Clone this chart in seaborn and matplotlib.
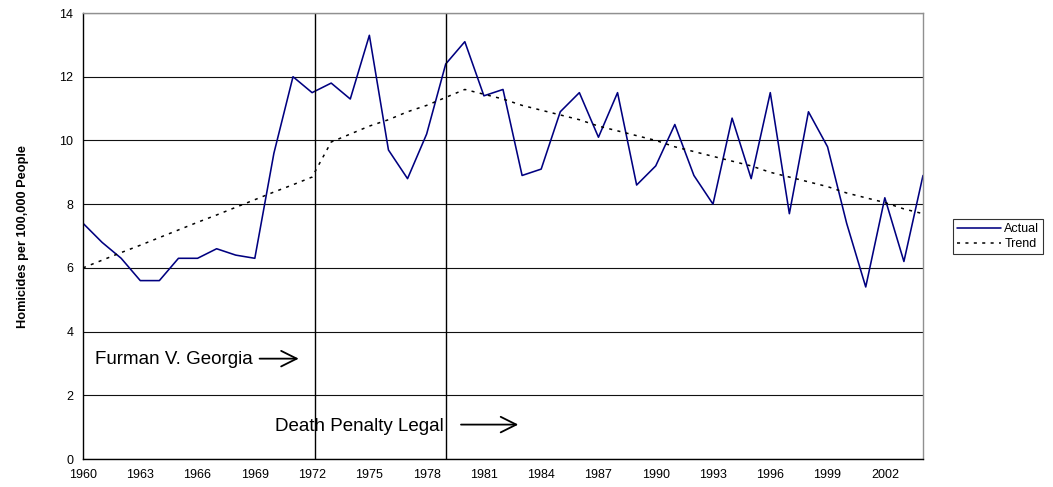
import matplotlib
matplotlib.use("Agg")
import matplotlib.pyplot as plt
import seaborn as sns
import pandas as pd
import numpy as np

years = list(range(1960, 2005))
actual = [7.4, 6.8, 6.3, 5.6, 5.6, 6.3, 6.3, 6.6, 6.4, 6.3,
          9.6, 12.0, 11.5, 11.8, 11.3, 13.3, 9.7, 8.8, 10.2, 12.4,
          13.1, 11.4, 11.6, 8.9, 9.1, 10.9, 11.5, 10.1, 11.5, 8.6,
          9.2, 10.5, 8.9, 8.0, 10.7, 8.8, 11.5, 7.7, 10.9, 9.8,
          7.4, 5.4, 8.2, 6.2, 8.9]
trend = [6.0, 6.24, 6.48, 6.71, 6.95, 7.19, 7.43, 7.66, 7.9, 8.14,
         8.38, 8.61, 8.85, 9.95, 10.2, 10.45, 10.65, 10.9, 11.1, 11.35,
         11.6, 11.45, 11.3, 11.1, 10.95, 10.8, 10.65, 10.45, 10.3, 10.15,
         10.0, 9.8, 9.65, 9.5, 9.35, 9.2, 9.0, 8.85, 8.7, 8.55,
         8.35, 8.2, 8.05, 7.85, 7.7]
event_years = [1972.15, 1979.0]
event_labels = ["Furman V. Georgia", "Death Penalty Legal"]
ylabel = "Homicides per 100,000 People"

sns.set_style("white")
plt.rcParams['font.family'] = ['Liberation Sans', 'DejaVu Sans']
plt.rcParams['text.color'] = 'black'
plt.rcParams['axes.labelcolor'] = 'black'
plt.rcParams['xtick.color'] = 'black'
plt.rcParams['ytick.color'] = 'black'

df = pd.DataFrame({"Year": years, "Actual": actual, "Trend": trend})

fig = plt.figure(figsize=(10.53, 4.87), dpi=100)
ax = fig.add_axes([83/1053, 1 - 459/487, (923-83)/1053, (459-13)/487])

sns.lineplot(data=df, x="Year", y="Actual", ax=ax, color="#000080", lw=1.15, label="Actual")
sns.lineplot(data=df, x="Year", y="Trend", ax=ax, color="black", lw=1.1,
             linestyle=(0, (2, 3.5)), label="Trend")

ax.set_xlim(1960, 2004)
ax.set_ylim(0, 14)
ax.set_yticks(np.arange(0, 15, 2))
ax.set_xticks(np.arange(1960, 2004, 3))
ax.set_xticks(np.arange(1960, 2005, 1), minor=True)
ax.yaxis.grid(True, color="#111111", lw=0.8)
ax.set_axisbelow(True)
for yr in event_years:
    ax.axvline(yr, color="black", lw=1.0)

ax.tick_params(axis='y', labelsize=9, direction='out', length=4.5, width=0.8, color='black',
               labelcolor='black', pad=2.5)
ax.tick_params(axis='x', which='major', labelsize=9, direction='out', length=3, width=0.8,
               color='black', labelcolor='black', pad=4)
ax.tick_params(axis='x', which='minor', direction='out', length=3, width=0.8, color='black')

for s in ["top", "right"]:
    ax.spines[s].set_color("#909090")
for s in ["left", "bottom"]:
    ax.spines[s].set_color("black")
for s in ax.spines.values():
    s.set_linewidth(1.0)

ax.set_xlabel("")
ax.set_ylabel(ylabel, fontsize=9.2, fontweight='bold', labelpad=22, color='black')

arrow_style = dict(arrowstyle="->,head_length=0.7,head_width=0.35", color="black",
                   lw=1.3, mutation_scale=16, shrinkA=0, shrinkB=0)
ax.text(1960.63, 3.12, event_labels[0], fontsize=13.5, va='center', ha='left', color='black')
ax.annotate("", xy=(1971.3, 3.15), xytext=(1969.25, 3.15), arrowprops=arrow_style)
ax.text(1970.06, 1.02, event_labels[1], fontsize=13.5, va='center', ha='left', color='black')
ax.annotate("", xy=(1982.8, 1.08), xytext=(1979.8, 1.08), arrowprops=arrow_style)

leg = ax.legend(loc='center left', bbox_to_anchor=(953/1053, 1 - 236.5/487),
                bbox_transform=fig.transFigure, frameon=True, fancybox=False,
                fontsize=9, handlelength=3.5, borderpad=0.3, labelspacing=0.25,
                handletextpad=0.3, borderaxespad=0)
leg.get_frame().set_edgecolor("black")
leg.get_frame().set_linewidth(0.8)
for t in leg.get_texts():
    t.set_color('black')

fig.savefig("out.png", dpi=100)
